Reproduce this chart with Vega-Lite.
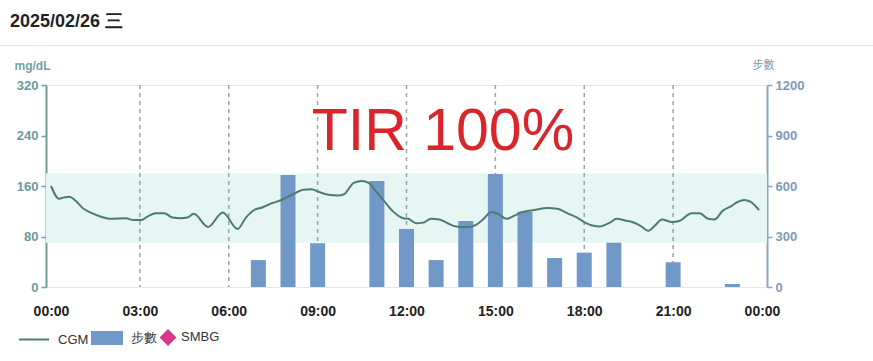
{
  "$schema": "https://vega.github.io/schema/vega-lite/v6.json",
  "padding": {"left": 0, "top": 12, "right": 0, "bottom": 0},
  "columns": 1,
  "align": "none",
  "spacing": 7,
  "datasets": {
    "cgm": [
      {"t": 0.0, "v": 160}, {"t": 0.27, "v": 140}, {"t": 0.45, "v": 142}, {"t": 0.62, "v": 143}, {"t": 0.82, "v": 137},
      {"t": 1.1, "v": 124}, {"t": 1.38, "v": 117}, {"t": 1.71, "v": 111}, {"t": 2.04, "v": 108}, {"t": 2.54, "v": 109},
      {"t": 2.77, "v": 106}, {"t": 3.04, "v": 106}, {"t": 3.27, "v": 112}, {"t": 3.54, "v": 117}, {"t": 3.82, "v": 117},
      {"t": 4.1, "v": 110}, {"t": 4.38, "v": 109}, {"t": 4.6, "v": 110}, {"t": 4.82, "v": 116}, {"t": 5.3, "v": 95},
      {"t": 5.8, "v": 118}, {"t": 6.3, "v": 92}, {"t": 6.58, "v": 110}, {"t": 6.86, "v": 122}, {"t": 7.13, "v": 126},
      {"t": 7.47, "v": 133}, {"t": 7.74, "v": 137}, {"t": 8.13, "v": 146}, {"t": 8.52, "v": 154}, {"t": 8.8, "v": 155},
      {"t": 9.02, "v": 151}, {"t": 9.36, "v": 146}, {"t": 9.69, "v": 145}, {"t": 9.89, "v": 147}, {"t": 10.22, "v": 165},
      {"t": 10.5, "v": 168}, {"t": 10.72, "v": 165}, {"t": 11.0, "v": 150}, {"t": 11.28, "v": 134}, {"t": 11.56, "v": 119},
      {"t": 11.89, "v": 109}, {"t": 12.06, "v": 108}, {"t": 12.33, "v": 101}, {"t": 12.56, "v": 102}, {"t": 12.83, "v": 108},
      {"t": 13.11, "v": 107}, {"t": 13.39, "v": 101}, {"t": 13.67, "v": 96}, {"t": 14.11, "v": 95}, {"t": 14.33, "v": 98},
      {"t": 14.56, "v": 106}, {"t": 14.87, "v": 119}, {"t": 15.09, "v": 116}, {"t": 15.37, "v": 108}, {"t": 15.64, "v": 113},
      {"t": 15.92, "v": 119}, {"t": 16.31, "v": 122}, {"t": 16.76, "v": 125}, {"t": 17.09, "v": 124}, {"t": 17.42, "v": 117},
      {"t": 17.76, "v": 110}, {"t": 18.03, "v": 102}, {"t": 18.31, "v": 97}, {"t": 18.53, "v": 96}, {"t": 18.87, "v": 102},
      {"t": 19.09, "v": 108}, {"t": 19.42, "v": 105}, {"t": 19.62, "v": 103}, {"t": 19.9, "v": 97}, {"t": 20.16, "v": 89},
      {"t": 20.4, "v": 98}, {"t": 20.62, "v": 107}, {"t": 20.96, "v": 103}, {"t": 21.23, "v": 105}, {"t": 21.62, "v": 117},
      {"t": 21.9, "v": 117}, {"t": 22.18, "v": 108}, {"t": 22.4, "v": 107}, {"t": 22.68, "v": 121}, {"t": 22.96, "v": 128},
      {"t": 23.18, "v": 135}, {"t": 23.4, "v": 138}, {"t": 23.62, "v": 135}, {"t": 23.9, "v": 122}
    ],
    "steps": [
      {"hour": 7, "steps": 160}, {"hour": 8, "steps": 665}, {"hour": 9, "steps": 260}, {"hour": 11, "steps": 630},
      {"hour": 12, "steps": 345}, {"hour": 13, "steps": 160}, {"hour": 14, "steps": 392}, {"hour": 15, "steps": 671},
      {"hour": 16, "steps": 447}, {"hour": 17, "steps": 172}, {"hour": 18, "steps": 204}, {"hour": 19, "steps": 263},
      {"hour": 21, "steps": 147}, {"hour": 23, "steps": 18}
    ],
    "grid": [{"hour": 3}, {"hour": 6}, {"hour": 9}, {"hour": 12}, {"hour": 15}, {"hour": 18}, {"hour": 21}],
    "target": [{"low": 70, "high": 180}],
    "tir": [{"label": "TIR 100%", "t": 13.23, "v": 217}]
  },
  "concat": [
    {
      "width": 827,
      "height": 1,
      "view": {"stroke": null},
      "title": {"text": "2025/02/26 三", "anchor": "start", "frame": "group", "fontSize": 18, "fontWeight": "bold", "color": "#222222", "font": "Liberation Sans", "dx": -36, "offset": 9},
      "data": {"values": [{"note": ""}]},
      "mark": {"type": "text"},
      "encoding": {
        "x": {"datum": 0, "type": "quantitative", "scale": {"domain": [0, 1], "range": [-46, 827]},
          "axis": {"orient": "top", "domain": true, "domainColor": "#e2e2e2", "domainWidth": 1, "ticks": false, "labels": false, "grid": false, "title": null}},
        "text": {"field": "note"}
      }
    },
    {
      "width": 721,
      "height": 202,
      "view": {"stroke": "#e6e6e6"},
      "resolve": {"scale": {"y": "independent"}},
      "layer": [
        {
          "layer": [
            {
              "data": {"name": "target"},
              "mark": {"type": "rect", "color": "#e6f6f2"},
              "encoding": {
                "y": {"field": "low", "type": "quantitative", "scale": {"domain": [0, 320], "nice": false},
                  "axis": {"orient": "left", "values": [0, 80, 160, 240, 320], "title": "mg/dL", "titleAngle": 0, "titleAlign": "left", "titleBaseline": "middle", "titleX": -32, "titleY": -20, "titleColor": "#76a0a0", "titleFontSize": 12, "titleFontWeight": "bold", "grid": false, "domainColor": "#6e9c9b", "domainWidth": 2, "tickColor": "#6e9c9b", "tickWidth": 1.5, "tickSize": 5, "labelColor": "#6b9a9b", "labelFontSize": 13, "labelFontWeight": "bold", "labelPadding": 3}},
                "y2": {"field": "high"}
              }
            },
            {
              "data": {"name": "grid"},
              "mark": {"type": "rule", "color": "#98a6a6", "strokeDash": [4, 4], "strokeWidth": 1.5},
              "encoding": {
                "x": {"field": "hour", "type": "quantitative", "scale": {"domain": [0, 24], "nice": false},
                  "axis": {"values": [0, 3, 6, 9, 12, 15, 18, 21, 24], "labelExpr": "datum.value >= 24 ? '00:00' : (datum.value < 10 ? '0' : '') + datum.value + ':00'"}}
              }
            }
          ]
        },
        {
          "data": {"name": "steps"},
          "mark": {"type": "bar", "size": 15},
          "encoding": {
            "x": {"field": "hour", "type": "quantitative", "scale": {"domain": [0, 24], "nice": false}},
            "y": {"field": "steps", "type": "quantitative", "scale": {"domain": [0, 1200], "nice": false},
              "axis": {"orient": "right", "values": [0, 300, 600, 900, 1200], "format": "d", "title": "步數", "titleAngle": 0, "titleAlign": "left", "titleBaseline": "middle", "titleX": -15, "titleY": -20, "titleColor": "#7d98b5", "titleFontSize": 11, "titleFontWeight": "normal", "titleFont": "Noto Sans CJK TC", "grid": false, "domainColor": "#8aa4bf", "domainWidth": 2, "tickColor": "#8aa4bf", "tickWidth": 1.5, "tickSize": 5, "labelColor": "#7d99b8", "labelFontSize": 13, "labelFontWeight": "bold", "labelPadding": 3}},
            "color": {"datum": "步數", "type": "nominal"}
          }
        },
        {
          "layer": [
            {
              "data": {"name": "cgm"},
              "mark": {"type": "line", "interpolate": "monotone", "strokeWidth": 2},
              "encoding": {
                "x": {"field": "t", "type": "quantitative", "scale": {"domain": [0, 24], "nice": false}},
                "y": {"field": "v", "type": "quantitative", "scale": {"domain": [0, 320], "nice": false}, "axis": null},
                "color": {"datum": "CGM", "type": "nominal",
                  "scale": {"domain": ["CGM", "步數", "SMBG"], "range": ["#4b7c72", "#7099c8", "#d6398a"]},
                  "legend": {
                    "orient": "none", "legendX": -46, "legendY": 258, "padding": 18, "direction": "horizontal", "title": null,
                    "labelFontSize": 13, "labelColor": "#333333", "labelFont": "Liberation Sans", "symbolSize": 900,
                    "columnPadding": -1, "labelOffset": 8,
                    "encode": {
                      "symbols": {"update": {
                        "shape": {"signal": "datum.value === 'CGM' ? 'stroke' : (datum.value === 'SMBG' ? 'M-0.8,0L-0.333,-0.467L0.133,0L-0.333,0.467Z' : 'M-1,-0.4H1V0.4H-1Z')"},
                        "size": {"value": 900},
                        "fill": {"signal": "datum.value === 'CGM' ? 'transparent' : (datum.value === 'SMBG' ? '#d6398a' : '#7099c8')"},
                        "stroke": {"signal": "datum.value === 'CGM' ? '#6e8f8c' : 'transparent'"},
                        "strokeWidth": {"value": 2},
                        "opacity": {"value": 1}
                      }},
                      "labels": {"update": {
                        "dx": {"signal": "datum.value === 'SMBG' ? -16 : 0"}
                      }}
                    }
                  }
                }
              }
            },
            {
              "data": {"name": "tir"},
              "mark": {"type": "text", "fontSize": 59, "color": "#d9262c", "align": "center", "baseline": "alphabetic", "font": "Liberation Sans"},
              "encoding": {
                "x": {"field": "t", "type": "quantitative", "scale": {"domain": [0, 24], "nice": false}},
                "y": {"field": "v", "type": "quantitative", "scale": {"domain": [0, 320], "nice": false}, "axis": null},
                "text": {"field": "label"}
              }
            }
          ]
        }
      ]
    }
  ],
  "config": {
    "font": "Liberation Sans",
    "axisX": {"title": null, "grid": false, "domain": false, "ticks": false, "labelPadding": 17, "labelFontSize": 14, "labelFontWeight": "bold", "labelColor": "#222222", "labelFlush": false}
  }
}
